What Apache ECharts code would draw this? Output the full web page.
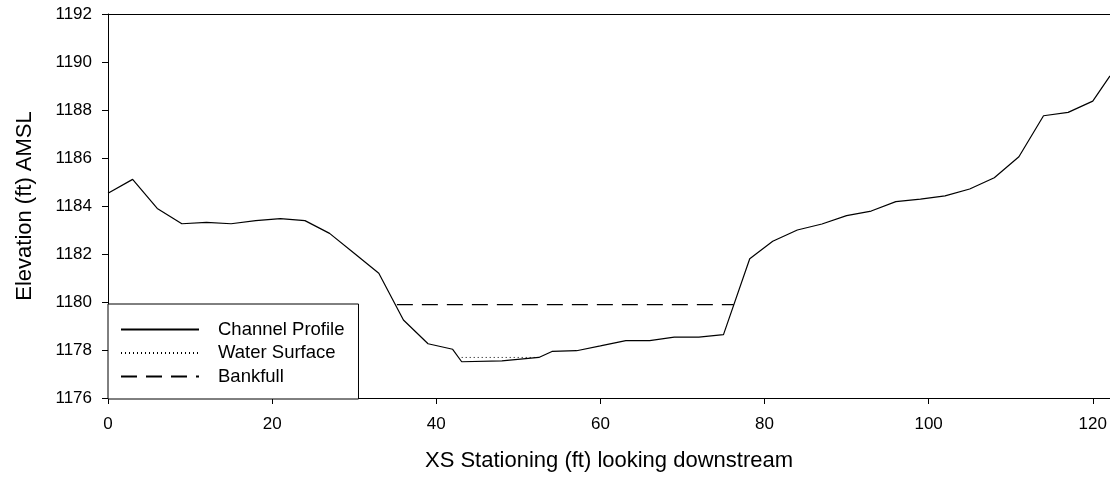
<!DOCTYPE html>
<html>
<head>
<meta charset="utf-8">
<script src="https://cdn.jsdelivr.net/npm/echarts@6/dist/echarts.min.js"></script>
<style>
  html, body { margin: 0; padding: 0; background: #fff; }
  #chart { width: 1110px; height: 478px; }
</style>
</head>
<body>
<div id="chart"></div>
<script>
// ── Data ────────────────────────────────────────────────────────────────
const stations = [0, 3, 6, 9, 12, 15, 18, 21, 24, 27, 30, 33, 36, 39, 42, 43.1,
  48, 52.5, 54.1, 57.1, 60, 63.1, 66, 69, 72, 75, 78.2, 81, 84, 87, 90, 93,
  96, 99, 102, 105, 108, 111, 114, 117, 120, 122.1];
const elevations = [1184.53, 1185.11, 1183.90, 1183.26, 1183.32, 1183.26, 1183.39,
  1183.47, 1183.39, 1182.86, 1182.03, 1181.20, 1179.25, 1178.26, 1178.03, 1177.51,
  1177.55, 1177.69, 1177.94, 1177.97, 1178.17, 1178.39, 1178.39, 1178.54, 1178.54,
  1178.64, 1181.80, 1182.53, 1183.00, 1183.25, 1183.60, 1183.79, 1184.18, 1184.29,
  1184.42, 1184.71, 1185.18, 1186.05, 1187.76, 1187.90, 1188.37, 1189.42];

const waterStations = [43.1, 52.5];
const waterElev = [1177.69, 1177.69];

const bankStations = [35.2, 76.25];
const bankElev = [1179.89, 1179.89];

const seriesNames = ['Channel Profile', 'Water Surface', 'Bankfull'];

const pairs = (xs, ys) => xs.map((x, i) => [x, ys[i]]);

// ── Chart ───────────────────────────────────────────────────────────────
const chart = echarts.init(document.getElementById('chart'), null, { renderer: 'canvas' });

const FONT = 'Liberation Sans, Arial, sans-serif';

const option = {
  backgroundColor: '#ffffff',
  animation: false,
  grid: { left: 108, top: 14, right: 0, bottom: 80 },
  legend: {
    orient: 'vertical',
    left: 108,
    top: 304,
    data: seriesNames,
    itemWidth: 78,
    itemHeight: 14,
    itemGap: 4.5,
    padding: [16, 14, 13, 12],
    backgroundColor: '#ffffff',
    borderColor: '#000000',
    borderWidth: 1,
    borderRadius: 0,
    itemStyle: { opacity: 0 },   // line only, no marker
    textStyle: {
      color: '#000000',
      fontFamily: FONT,
      fontSize: 18.5,
      lineHeight: 16,
      padding: [0, 0, 0, 14]
    },
    z: 10
  },
  xAxis: [{
    type: 'value',
    min: 0,
    max: 122.1,
    interval: 20,
    name: 'XS Stationing (ft) looking downstream',
    nameLocation: 'middle',
    nameGap: 52,
    nameTextStyle: { color: '#000', fontFamily: FONT, fontSize: 22 },
    axisLine: { show: true, lineStyle: { color: '#000', width: 1 } },
    axisTick: { show: true, length: 6, lineStyle: { color: '#000' } },
    axisLabel: { color: '#000', fontFamily: FONT, fontSize: 17, margin: 18 },
    splitLine: { show: false }
  }, {
    // top frame line
    type: 'value',
    position: 'top',
    min: 0,
    max: 122.1,
    axisLine: { show: true, lineStyle: { color: '#000', width: 1 } },
    axisTick: { show: false },
    axisLabel: { show: false },
    splitLine: { show: false }
  }],
  yAxis: {
    type: 'value',
    min: 1176,
    max: 1192,
    interval: 2,
    name: 'Elevation (ft) AMSL',
    nameLocation: 'middle',
    nameGap: 72,
    nameTextStyle: { color: '#000', fontFamily: FONT, fontSize: 22 },
    axisLine: { show: true, lineStyle: { color: '#000', width: 1 } },
    axisTick: { show: true, length: 6, lineStyle: { color: '#000' } },
    axisLabel: {
      color: '#000', fontFamily: FONT, fontSize: 17, margin: 16,
      formatter: v => String(v)
    },
    splitLine: { show: false }
  },
  series: [{
    name: seriesNames[0],
    type: 'line',
    data: pairs(stations, elevations),
    symbol: 'none',
    lineStyle: { color: '#000', width: 1.2, type: 'solid' },
    itemStyle: { color: '#000' }
  }, {
    name: seriesNames[1],
    type: 'line',
    data: pairs(waterStations, waterElev),
    symbol: 'none',
    lineStyle: { color: '#000', width: 1, type: [1, 3] },
    itemStyle: { color: '#000' }
  }, {
    name: seriesNames[2],
    type: 'line',
    data: pairs(bankStations, bankElev),
    symbol: 'none',
    lineStyle: { color: '#000', width: 1.2, type: [16, 9] },
    itemStyle: { color: '#000' }
  }]
};

chart.setOption(option);
</script>
</body>
</html>
